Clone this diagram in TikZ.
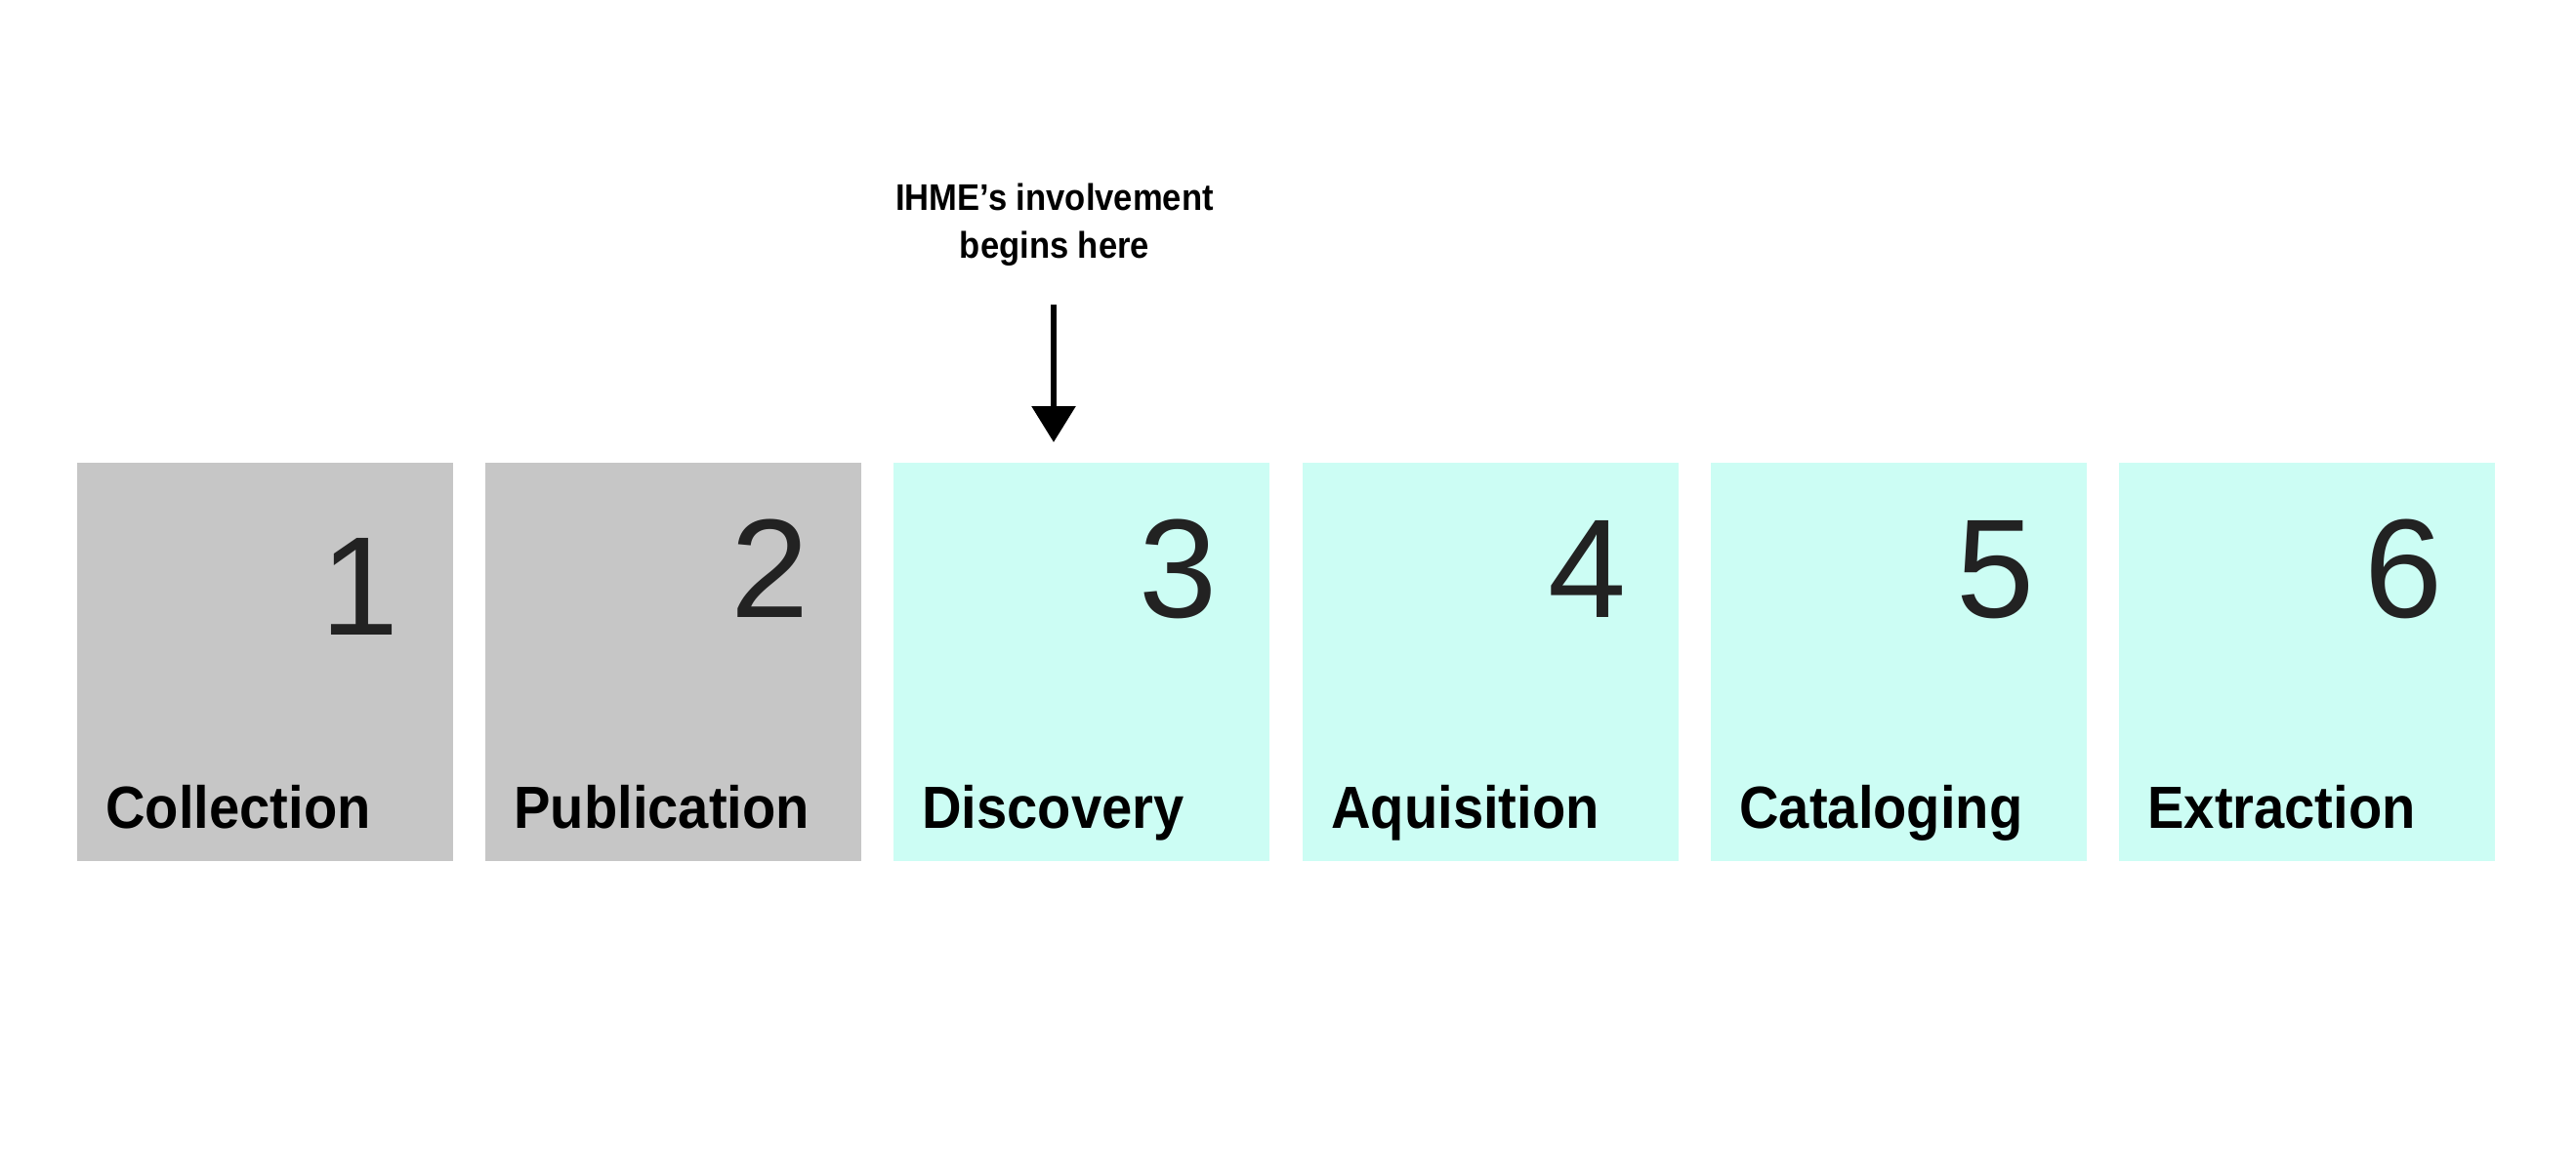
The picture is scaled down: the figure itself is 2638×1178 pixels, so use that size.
\documentclass[tikz,border=0pt]{standalone}
\usepackage{fontspec}
\setmainfont{Liberation Sans}
\usetikzlibrary{arrows.meta}
\definecolor{greybox}{HTML}{C6C6C6}
\definecolor{cyanbox}{HTML}{CCFDF4}
\definecolor{numcol}{HTML}{222222}
\begin{document}
\begin{tikzpicture}[x=0.5pt,y=-0.5pt,
  stepbox/.style={rectangle, draw=none, inner sep=0pt, minimum width=192.5pt, minimum height=204pt, anchor=north west},
  greystep/.style={stepbox, fill=greybox},
  cyanstep/.style={stepbox, fill=cyanbox},
  numlabel/.style={inner sep=0pt, anchor=base east, font=\fontsize{72}{72}\selectfont, text=numcol},
  steplabel/.style={inner sep=0pt, anchor=base west, font=\fontsize{30.5}{30.5}\selectfont\bfseries, text=black},
  titlelabel/.style={inner sep=0pt, align=center, font=\fontsize{19}{24.5}\selectfont\bfseries}
]
\useasboundingbox[fill=white] (0,0) rectangle (2638,1178);
% boxes
\node[greystep] (b1) at (79,474) {};
\node[greystep] (b2) at (497,474) {};
\node[cyanstep] (b3) at (915,474) {};
\node[cyanstep] (b4) at (1334,474) {};
\node[cyanstep] (b5) at (1752,474) {};
\node[cyanstep] (b6) at (2170,474) {};
% numbers
\node[numlabel] (n1) at ([xshift=-28pt,yshift=-88pt]b1.north east) {1};
\node[numlabel] (n2) at ([xshift=-27pt,yshift=-79pt]b2.north east) {2};
\node[numlabel] (n3) at ([xshift=-27pt,yshift=-79pt]b3.north east) {3};
\node[numlabel] (n4) at ([xshift=-27pt,yshift=-79pt]b4.north east) {4};
\node[numlabel] (n5) at ([xshift=-27pt,yshift=-79pt]b5.north east) {5};
\node[numlabel] (n6) at ([xshift=-27pt,yshift=-79pt]b6.north east) {6};
% labels
\node[steplabel] (l1) at ([xshift=14.5pt,yshift=17pt]b1.south west) {\scalebox{0.92}[1]{Collection}};
\node[steplabel] (l2) at ([xshift=14.5pt,yshift=17pt]b2.south west) {\scalebox{0.92}[1]{Publication}};
\node[steplabel] (l3) at ([xshift=14.5pt,yshift=17pt]b3.south west) {\scalebox{0.92}[1]{Discovery}};
\node[steplabel] (l4) at ([xshift=14.5pt,yshift=17pt]b4.south west) {\scalebox{0.92}[1]{Aquisition}};
\node[steplabel] (l5) at ([xshift=14.5pt,yshift=17pt]b5.south west) {\scalebox{0.92}[1]{Cataloging}};
\node[steplabel] (l6) at ([xshift=14.5pt,yshift=17pt]b6.south west) {\scalebox{0.92}[1]{Extraction}};
% title and arrow
\node[titlelabel, anchor=north] (title) at (1080,188) {\scalebox{0.91}[1]{IHME’s involvement}\\\scalebox{0.91}[1]{begins here}};
\coordinate (as) at (1079,312);
\coordinate (ae) at (1079,453);
\draw[line width=3pt, -{Triangle[width=22pt,length=18.5pt]}] (as) -- (ae);
\end{tikzpicture}
\end{document}
